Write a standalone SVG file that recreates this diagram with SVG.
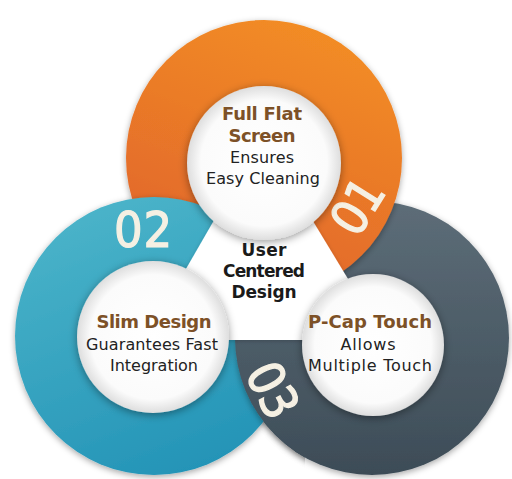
<svg xmlns="http://www.w3.org/2000/svg" width="512" height="479" viewBox="0 0 512 479">
  <defs>
    <linearGradient id="gOr" x1="0.75" y1="0" x2="0.35" y2="1">
      <stop offset="0" stop-color="#f38e24"/>
      <stop offset="1" stop-color="#e0632c"/>
    </linearGradient>
    <linearGradient id="gTe" x1="0.2" y1="0" x2="0.6" y2="1">
      <stop offset="0" stop-color="#4cb5ca"/>
      <stop offset="1" stop-color="#2494b7"/>
    </linearGradient>
    <linearGradient id="gSl" x1="0.5" y1="0" x2="0.5" y2="1">
      <stop offset="0" stop-color="#5d6d78"/>
      <stop offset="1" stop-color="#3d4c57"/>
    </linearGradient>
    <radialGradient id="gW" cx="0.5" cy="0.5" r="0.5">
      <stop offset="0" stop-color="#ffffff"/>
      <stop offset="0.82" stop-color="#fbfbfb"/>
      <stop offset="1" stop-color="#dedede"/>
    </radialGradient>
    <filter id="sh" x="-20%" y="-20%" width="140%" height="140%">
      <feDropShadow dx="0" dy="2" stdDeviation="3" flood-color="#000" flood-opacity="0.35"/>
    </filter>
    <filter id="shc" x="-20%" y="-20%" width="140%" height="140%">
      <feDropShadow dx="0" dy="2" stdDeviation="4" flood-color="#000" flood-opacity="0.4"/>
    </filter>
    <filter id="sht" x="-20%" y="-20%" width="140%" height="140%">
      <feDropShadow dx="0" dy="1" stdDeviation="2" flood-color="#000" flood-opacity="0.2"/>
    </filter>
    <clipPath id="clipBL">
      <rect x="0" y="335" width="305" height="144"/>
    </clipPath>
  </defs>
  <style>
    .h { font-family: "DejaVu Sans", "Liberation Sans", sans-serif; font-weight: bold; font-size: 18px; fill: #7d5127; text-anchor: middle; }
    .b { font-family: "DejaVu Sans", "Liberation Sans", sans-serif; font-size: 16px; fill: #222222; text-anchor: middle; }
    .c { font-family: "DejaVu Sans", "Liberation Sans", sans-serif; font-weight: bold; font-size: 17px; fill: #1a1a1a; text-anchor: middle; }
    .n { font-family: "DejaVu Sans Condensed", "DejaVu Sans", sans-serif; font-weight: normal; font-size: 50px; fill: #f5f0e3; stroke: #f5f0e3; stroke-width: 1.2; text-anchor: middle; }
    .w { fill: url(#gW); filter: url(#shc); }
  </style>

  <rect width="512" height="479" fill="#ffffff"/>

  <g id="rings">
    <circle cx="372" cy="338" r="137" fill="url(#gSl)" filter="url(#sh)"/>
    <circle cx="264" cy="158" r="138" fill="url(#gOr)" filter="url(#sh)"/>
    <circle cx="154" cy="336" r="139" fill="url(#gTe)" filter="url(#sh)"/>
    <g clip-path="url(#clipBL)">
      <circle cx="372" cy="338" r="137" fill="url(#gSl)" filter="url(#sh)"/>
    </g>
  </g>

  <g id="center">
    <polygon points="262,137 145,340 385,340" fill="#ffffff" filter="url(#sht)"/>
  </g>

  <g id="node-01">
    <text class="n" transform="translate(357,206) rotate(-58)" x="0" y="18" textLength="56">01</text>
    <circle class="w" cx="264" cy="163" r="77"/>
    <text class="h" x="262" y="120" textLength="80">Full Flat</text>
    <text class="h" x="262" y="142" textLength="67">Screen</text>
    <text class="b" x="262" y="163" textLength="64">Ensures</text>
    <text class="b" x="263" y="184" textLength="114">Easy Cleaning</text>
  </g>

  <g id="node-02">
    <text class="n" x="143" y="247" textLength="58">02</text>
    <circle class="w" cx="153" cy="337" r="76"/>
    <text class="h" x="154" y="328" textLength="115">Slim Design</text>
    <text class="b" x="152" y="350" textLength="132">Guarantees Fast</text>
    <text class="b" x="154" y="371" textLength="88">Integration</text>
  </g>

  <g id="node-03">
    <text class="n" transform="translate(273,390) rotate(63)" x="0" y="18" textLength="56">03</text>
    <circle class="w" cx="373" cy="345" r="71"/>
    <text class="h" x="370" y="328" textLength="124">P-Cap Touch</text>
    <text class="b" x="368" y="350" textLength="55">Allows</text>
    <text class="b" x="370" y="371" textLength="124">Multiple Touch</text>
  </g>

  <g id="center-label">
    <text class="c" x="264" y="256" textLength="45">User</text>
    <text class="c" x="264" y="277" textLength="82">Centered</text>
    <text class="c" x="264" y="298" textLength="65">Design</text>
  </g>
</svg>
